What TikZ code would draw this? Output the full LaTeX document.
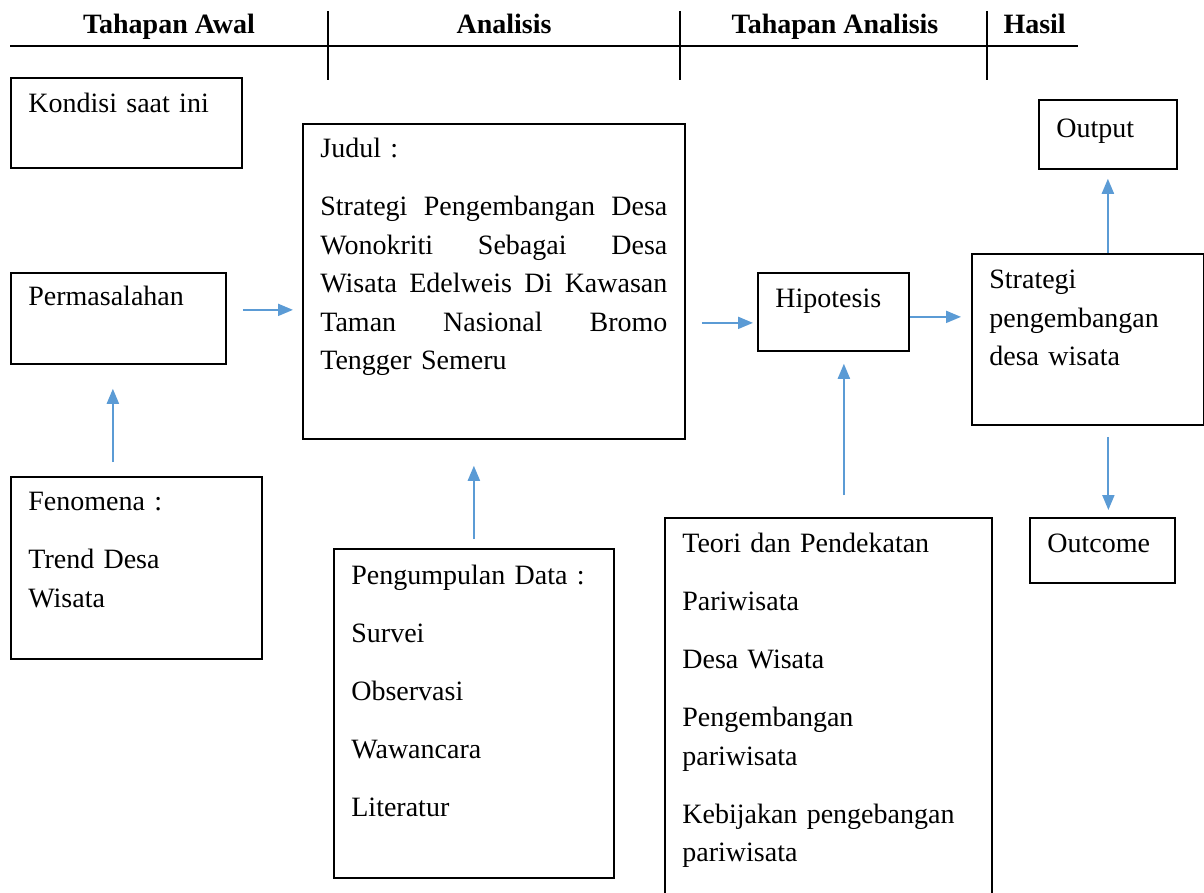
\documentclass[tikz,border=0pt]{standalone}
\usepackage{fontspec}
\setmainfont{Liberation Serif}
\usetikzlibrary{arrows.meta}
\definecolor{arrowblue}{HTML}{5B9BD5}

\begin{document}
\begin{tikzpicture}[
  x=0.4pt, y=-0.4pt,
  box/.style={draw, line width=0.7pt, anchor=north west, align=left, inner xsep=7pt, inner ysep=0pt, text height=14pt, font=\fontsize{11.2}{15.4}\selectfont},
  head/.style={anchor=base, inner sep=0pt, font=\fontsize{11.2}{15.4}\selectfont\bfseries},
  arrow/.style={arrowblue, line width=0.8pt, -{Triangle[length=6pt, width=4.8pt]}},
  rule/.style={line width=0.8pt}
  ]
\useasboundingbox (0,0) rectangle (1204,892);
\clip (0,0) rectangle (1204,892);

% Header
\draw[rule] (10,46) -- (1078,46);
\foreach \x in {328,680,987} \draw[rule] (\x,11) -- (\x,80);
\node[head] (awal) at (169,34) {Tahapan Awal};
\node[head] (analisis) at (504,34) {Analisis};
\node[head] (tahapan) at (835,34) {Tahapan Analisis};
\node[head, anchor=base west] (hasil) at (1003,34) {Hasil};

% Boxes
\node[box, text width=78.4pt, text depth=22pt] (kondisi) at (10,77) {Kondisi saat ini};
\node[box, text width=72pt, text height=13.2pt, text depth=23.2pt] (masalah) at (10,272) {Permasalahan};
\node[box, text width=86.4pt, text height=13.6pt, text depth=59.2pt] (fenomena) at (10,476) {Fenomena :\\[7.8pt] Trend Desa\\ Wisata};
\node[box, text width=138.8pt, text height=13.6pt, text depth=112.4pt] (judul) at (302,123) {Judul :\\[7.8pt]
  Strategi\hfill Pengembangan\hfill Desa\\
  Wonokriti\hfill Sebagai\hfill Desa\\
  Wisata\hfill Edelweis\hfill Di\hfill Kawasan\\
  Taman\hfill Nasional\hfill Bromo\\
  Tengger Semeru};
\node[box, text width=98pt, text height=14.4pt, text depth=117.2pt] (data) at (333,548) {Pengumpulan Data :\\[7.8pt] Survei\\[7.8pt] Observasi\\[7.8pt] Wawancara\\[7.8pt] Literatur};
\node[box, text width=46.4pt, text depth=17.2pt] (hipotesis) at (757,272) {Hipotesis};
\node[box, text width=116.8pt, text depth=146pt] (teori) at (664,517) {Teori dan Pendekatan\\[7.8pt] Pariwisata\\[7.8pt] Desa Wisata\\[7.8pt] Pengembangan\\ pariwisata\\[7.8pt] Kebijakan pengebangan\\ pariwisata};
\node[box, text width=78.8pt, text depth=54.4pt] (strategi) at (971,253) {Strategi\\ pengembangan\\ desa wisata};
\node[box, text width=41.2pt, text height=15.2pt, text depth=12.4pt] (output) at (1038,99) {Output};
\node[box, text width=44pt, text depth=12pt] (outcome) at (1029,517) {Outcome};

% Arrows
\draw[arrow, shorten <=5.6pt, shorten >=9.6pt] ([xshift=-2.2pt]fenomena.north -| masalah.south) -- ([xshift=-2.2pt]masalah.south);
\draw[arrow, shorten <=6.4pt, shorten >=3.6pt] ([yshift=3.4pt]masalah.east) -- ([yshift=3.4pt]masalah.east -| judul.west);
\draw[arrow, shorten <=3.6pt, shorten >=10.4pt] (data.north) -- (data.north |- judul.south);
\draw[arrow, shorten <=6.4pt, shorten >=1.6pt] ([yshift=-4.4pt]judul.east |- hipotesis.west) -- ([yshift=-4.4pt]hipotesis.west);
\draw[arrow, shorten <=8.8pt, shorten >=4.8pt] ([xshift=4.2pt]teori.north -| hipotesis.south) -- ([xshift=4.2pt]hipotesis.south);
\draw[arrow, shorten >=4pt] ([yshift=-2pt]hipotesis.east) -- ([yshift=-2pt]hipotesis.east -| strategi.west);
\draw[arrow, shorten >=3.6pt] (strategi.north -| output.south) -- (output.south);
\draw[arrow, shorten <=4.4pt, shorten >=2.8pt] ([xshift=2.4pt]strategi.south -| outcome.north) -- ([xshift=2.4pt]outcome.north);

\end{tikzpicture}
\end{document}
